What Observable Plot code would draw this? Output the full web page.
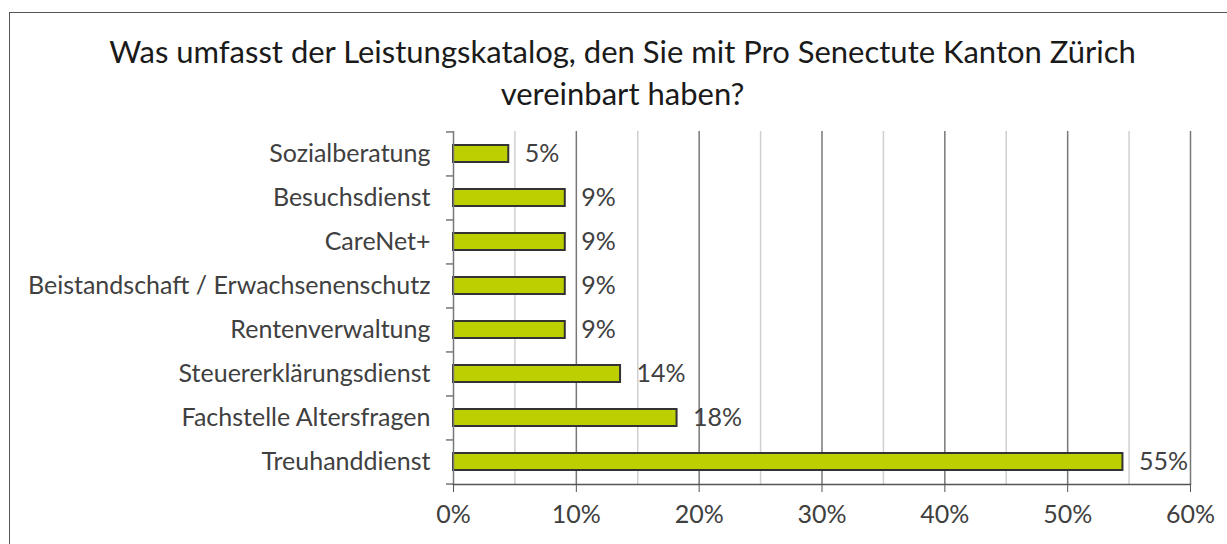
<!DOCTYPE html>
<html>
<head>
<meta charset="utf-8">
<script src="https://cdn.jsdelivr.net/npm/d3@7"></script>
<script src="https://cdn.jsdelivr.net/npm/@observablehq/plot@0.6"></script>
<style>
  html, body { margin: 0; padding: 0; background: #ffffff; width: 1227px; height: 544px; overflow: hidden; }
  #frame { position: absolute; left: 9px; top: 12px; width: 1400px; height: 800px;
           border-left: 1.5px solid #555; border-top: 1.5px solid #555; pointer-events: none; }
  #title { box-sizing: border-box; height: 118px; padding-top: 30px; width: 1227px;
           text-align: center; font-family: Lato, "Open Sans", sans-serif; font-size: 31px;
           line-height: 42px; color: #1a1a1a; padding-left: 18px; }
  #chart { display: block; }
</style>
</head>
<body>
<div id="frame"></div>
<div id="title">Was umfasst der Leistungskatalog, den Sie mit Pro Senectute Kanton Zürich<br>vereinbart haben?</div>
<div id="chart"></div>
<script>
const categories = [
  "Sozialberatung",
  "Besuchsdienst",
  "CareNet+",
  "Beistandschaft / Erwachsenenschutz",
  "Rentenverwaltung",
  "Steuererklärungsdienst",
  "Fachstelle Altersfragen",
  "Treuhanddienst"
];
const values = [0.045, 0.091, 0.091, 0.091, 0.091, 0.136, 0.182, 0.545];
const valueLabels = ["5%", "9%", "9%", "9%", "9%", "14%", "18%", "55%"];
const majorTicks = [0, 0.1, 0.2, 0.3, 0.4, 0.5, 0.6];
const minorTicks = [0.05, 0.15, 0.25, 0.35, 0.45, 0.55];

const data = categories.map((c, i) => ({category: c, value: values[i], label: valueLabels[i]}));

const W = 1227, H = 426, MT = 13, MB = 60, ML = 453, MR = 37;
const step = (H - MT - MB) / categories.length;

const chart = Plot.plot({
  width: W,
  height: H,
  marginTop: MT,
  marginBottom: MB,
  marginLeft: ML,
  marginRight: MR,
  style: {fontFamily: "Lato, 'Open Sans', sans-serif", fontSize: "25px", color: "#404040", background: "transparent", overflow: "visible"},
  x: {domain: [0, 0.6]},
  y: {domain: categories, paddingInner: 0.61, paddingOuter: 0.305},
  marks: [
    Plot.ruleX(minorTicks, {stroke: "#d0d0d0", strokeWidth: 1.5}),
    Plot.ruleX(majorTicks.slice(1), {stroke: "#777", strokeWidth: 1.5}),
    Plot.barX(data, {x: "value", y: "category", fill: "#bdcf00", stroke: "#333", strokeWidth: 2}),
    Plot.text(data, {x: "value", y: "category", text: "label", textAnchor: "start", dx: 16, fill: "#404040", fontSize: 25}),
    Plot.ruleX([0], {stroke: "#777", strokeWidth: 1.5}),
    Plot.ruleY(categories, {y: d => d, x1: () => 0, x2: () => 0, insetLeft: -7, dy: -step / 2, stroke: "#777", strokeWidth: 1.5}),
    Plot.ruleY(categories.slice(-1), {y: d => d, x1: () => 0, x2: () => 0, insetLeft: -7, dy: step / 2, stroke: "#777", strokeWidth: 1.5}),
    Plot.frame({anchor: "bottom", stroke: "#555", strokeWidth: 1.5}),
    Plot.axisX({ticks: majorTicks, tickFormat: d => Math.round(d * 100) + "%", tickSize: 8, tickPadding: 13, stroke: "#555", fill: "#404040", label: null, fontSize: 25}),
    Plot.axisY({tickSize: 0, tickPadding: 23, fill: "#404040", label: null, fontSize: 25})
  ]
});
document.getElementById("chart").appendChild(chart);
</script>
</body>
</html>
